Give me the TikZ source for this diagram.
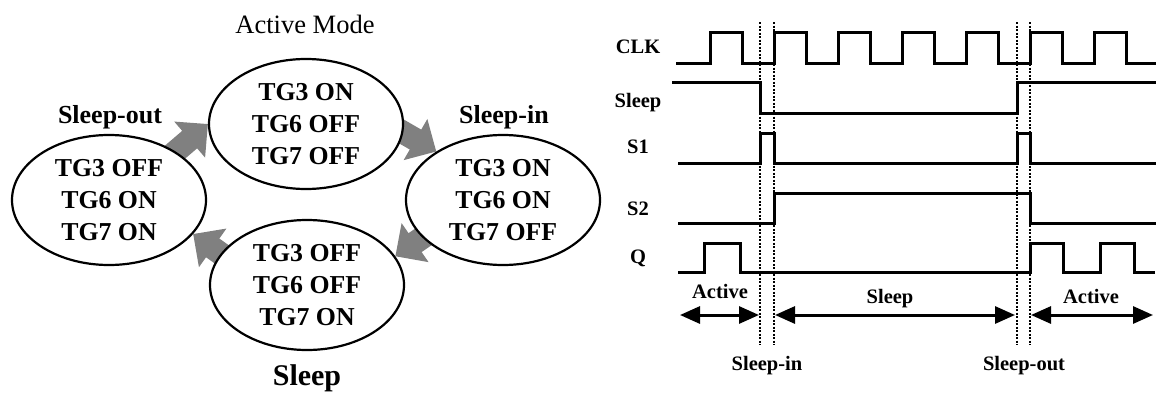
\documentclass[tikz,border=0pt]{standalone}
\usepackage{fontspec}
\setmainfont{Liberation Serif}
\usetikzlibrary{arrows.meta,positioning,shapes.geometric,backgrounds}
\definecolor{blockgray}{RGB}{128,128,128}

\begin{document}
\begin{tikzpicture}[x=1pt, y=-1pt,
    state/.style={ellipse, draw, line width=2.2pt, fill=white, minimum width=194pt,
      minimum height=130pt, inner sep=0pt, align=center,
      font=\fontsize{25.8}{32}\selectfont\bfseries},
    modelbl/.style={font=\fontsize{26}{30}\selectfont\bfseries, anchor=base},
    fat/.style={line width=23pt, draw=blockgray, shorten <=-10pt,
      -{Triangle[length=24pt,width=46pt]}},
    sig/.style={line width=3pt},
    siglbl/.style={font=\fontsize{20.5}{24}\selectfont\bfseries, anchor=base},
    guide/.style={line width=1.2pt, dash pattern=on 2pt off 1.5pt},
    span/.style={line width=3pt,
      {Triangle[length=20pt,width=17pt]}-{Triangle[length=20pt,width=17pt]}}]
  \useasboundingbox (0,0) rectangle (1157,394);

  % state diagram
  \node[state] (act) at (306,124) {TG3 ON\\TG6 OFF\\TG7 OFF};
  \node[state] (lft) at (109,200) {TG3 OFF\\TG6 ON\\TG7 ON};
  \node[state] (rgt) at (503,200) {TG3 ON\\TG6 ON\\TG7 OFF};
  \node[state] (bot) at (307,285) {TG3 OFF\\TG6 OFF\\TG7 ON};
  \node[font=\fontsize{26.5}{30}\selectfont, anchor=base] (actlbl) at (305,33) {Active Mode};
  \node[modelbl] (outlbl) at (110,123) {Sleep-out};
  \node[modelbl] (inlbl) at (504,123) {Sleep-in};
  \node[font=\fontsize{30}{36}\selectfont\bfseries, anchor=base] (sleeplbl) at (307,385) {Sleep};
  % block arrows behind the states
  \begin{pgfonlayer}{background}
    \draw[fat] (lft.36) -- (act.180);
    \draw[fat] (act.-5) -- (rgt.144);
    \draw[fat] (rgt.205) -- (bot.18);
    \draw[fat] (bot.160) -- (lft.-22);
  \end{pgfonlayer}

  % timing diagram
  \node[siglbl] (clk) at (638,53) {CLK};
  \node[siglbl] (slp) at (638,107) {Sleep};
  \node[siglbl] (sa) at (638,153) {S1};
  \node[siglbl] (sb) at (638,215) {S2};
  \node[siglbl] (q) at (638,263) {Q};
  \draw[sig] (676,63) \foreach \t in {710,774,838,902,966,1030,1094}
    { -- (\t,63) -- (\t,32) -- (\t+32,32) -- (\t+32,63) } -- (1156,63);
  \draw[sig] (672,82) -- (760,82) -- (760,113) -- (1017,113) -- (1017,82) -- (1156,82);
  \draw[sig] (678,163) -- (760,163) -- (760,133) -- (774,133) -- (774,163)
    -- (1017,163) -- (1017,133) -- (1030,133) -- (1030,163) -- (1156,163);
  \draw[sig] (678,223) -- (774,223) -- (774,193) -- (1030,193) -- (1030,223) -- (1156,223);
  \draw[sig] (678,272) -- (704,272) -- (704,243) -- (740,243) -- (740,272)
    -- (1030,272) -- (1030,243) -- (1063,243) -- (1063,272) -- (1100,272)
    -- (1100,243) -- (1134,243) -- (1134,272) -- (1155,272);
  % sleep-in / sleep-out boundaries
  \foreach \gx [count=\i] in {760,774,1017,1030} {
    \coordinate (g\i t) at (\gx,22);
    \coordinate (g\i b) at (\gx,345);
    \draw[guide] (g\i t) -- (g\i b);
  }
  \draw[span] (680,315) -- (759,315);
  \draw[span] (775,315) -- (1015,315);
  \draw[span] (1031,315) -- (1153,315);
  \node[siglbl] (actA) at (720,298) {Active};
  \node[siglbl] (slpB) at (890,303) {Sleep};
  \node[siglbl] (actC) at (1091,303) {Active};
  \node[siglbl] (inB) at (767,370) {Sleep-in};
  \node[siglbl] (outB) at (1024,370) {Sleep-out};
\end{tikzpicture}
\end{document}
